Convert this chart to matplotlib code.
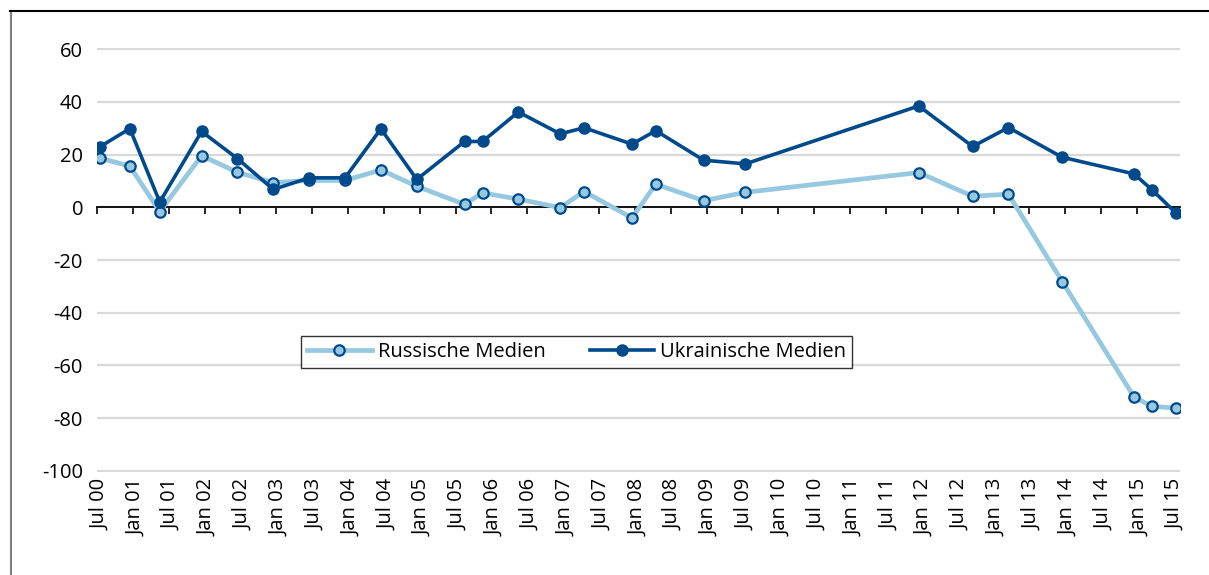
import matplotlib.pyplot as plt
import numpy as np
import pandas as pd
from matplotlib.lines import Line2D

plt.rcParams['font.family'] = ['Open Sans', 'DejaVu Sans']
plt.rcParams['axes.unicode_minus'] = False

# Survey dates and media sentiment values
dates = ['2000-07', '2000-12', '2001-05', '2001-12', '2002-06', '2002-12',
         '2003-06', '2003-12', '2004-06', '2004-12', '2005-08', '2005-11',
         '2006-05', '2006-12', '2007-04', '2007-12', '2008-04', '2008-12',
         '2009-07', '2011-12', '2012-09', '2013-03', '2013-12', '2014-12',
         '2015-03', '2015-07']
russian = [18.7, 15.6, -1.6, 19.6, 13.3, 9.4, 10.2, 10.2, 14.2, 8.0, 1.1, 5.5,
           3.1, -0.1, 6.0, -4.0, 8.8, 2.5, 5.7, 13.2, 4.2, 5.0, -28.2, -72.0,
           -75.6, -76.2]
ukrainian = [23.0, 29.9, 2.0, 28.8, 18.5, 6.8, 11.2, 11.2, 29.8, 10.6, 25.0,
             25.0, 36.2, 27.9, 30.2, 24.0, 29.1, 17.9, 16.5, 38.5, 23.1, 30.3,
             19.0, 12.7, 6.7, -2.1]
series_names = ['Russische Medien', 'Ukrainische Medien']
yticks = [-100, -80, -60, -40, -20, 0, 20, 40, 60]

# months since the first survey
start = pd.Period('2000-07', freq='M')
x = np.array([(pd.Period(d, freq='M') - start).n for d in dates])

tick_periods = [start + 6 * k for k in range(31)]
tick_pos = np.array([(p - start).n for p in tick_periods])
tick_labels = [p.strftime('%b %y') for p in tick_periods]

dark = '#004A8C'
light = '#96C8E0'
fs = 14.5

fig = plt.figure(figsize=(12.09, 5.75), dpi=100)
ax = fig.add_axes([97 / 1209, 103 / 575, 1083 / 1209, 424 / 575])

ax.plot(x, russian, color=light, lw=3.4, marker='o', ms=7.5,
        mfc=light, mec=dark, mew=1.6, label=series_names[0], zorder=3)
ax.plot(x, ukrainian, color=dark, lw=2.6, marker='o', ms=8,
        mfc=dark, mec=dark, label=series_names[1], zorder=4)

ax.set_xlim(-0.5, 180.7)
ax.set_ylim(-100.5, 60.5)
ax.set_yticks(yticks)
ax.yaxis.grid(True, color='#D9D9D9', lw=1.6)
ax.set_axisbelow(True)
ax.tick_params(axis='y', length=0, pad=10, labelsize=fs)

for s in ['top', 'right', 'left']:
    ax.spines[s].set_visible(False)
ax.spines['bottom'].set_position(('data', 0))
ax.spines['bottom'].set_linewidth(1.3)
ax.spines['bottom'].set_zorder(2)
ax.set_xticks(tick_pos - 0.5)
ax.tick_params(axis='x', direction='out', length=5, width=1.2,
               labelbottom=False)

sec = ax.secondary_xaxis('bottom')
sec.set_xticks(tick_pos)
sec.set_xticklabels(tick_labels, rotation=90, fontsize=fs)
sec.tick_params(length=0, pad=5)
sec.spines['bottom'].set_visible(False)

leg = ax.legend(loc='center', bbox_to_anchor=(0.443, 0.283), ncol=2,
                fontsize=fs, frameon=True, fancybox=False,
                handlelength=3.2, columnspacing=2.2, borderpad=0.3,
                handletextpad=0.3)
leg.get_frame().set_edgecolor('black')
leg.get_frame().set_linewidth(1.0)

# outer chart frame
fig.add_artist(Line2D([10.5 / 1209, 10.5 / 1209], [0, 1 - 11 / 575],
                      color='#7F7F7F', lw=1.5))
fig.add_artist(Line2D([10 / 1209, 1], [1 - 11 / 575, 1 - 11 / 575],
                      color='black', lw=1.5))

fig.savefig('out.png', dpi=100)
